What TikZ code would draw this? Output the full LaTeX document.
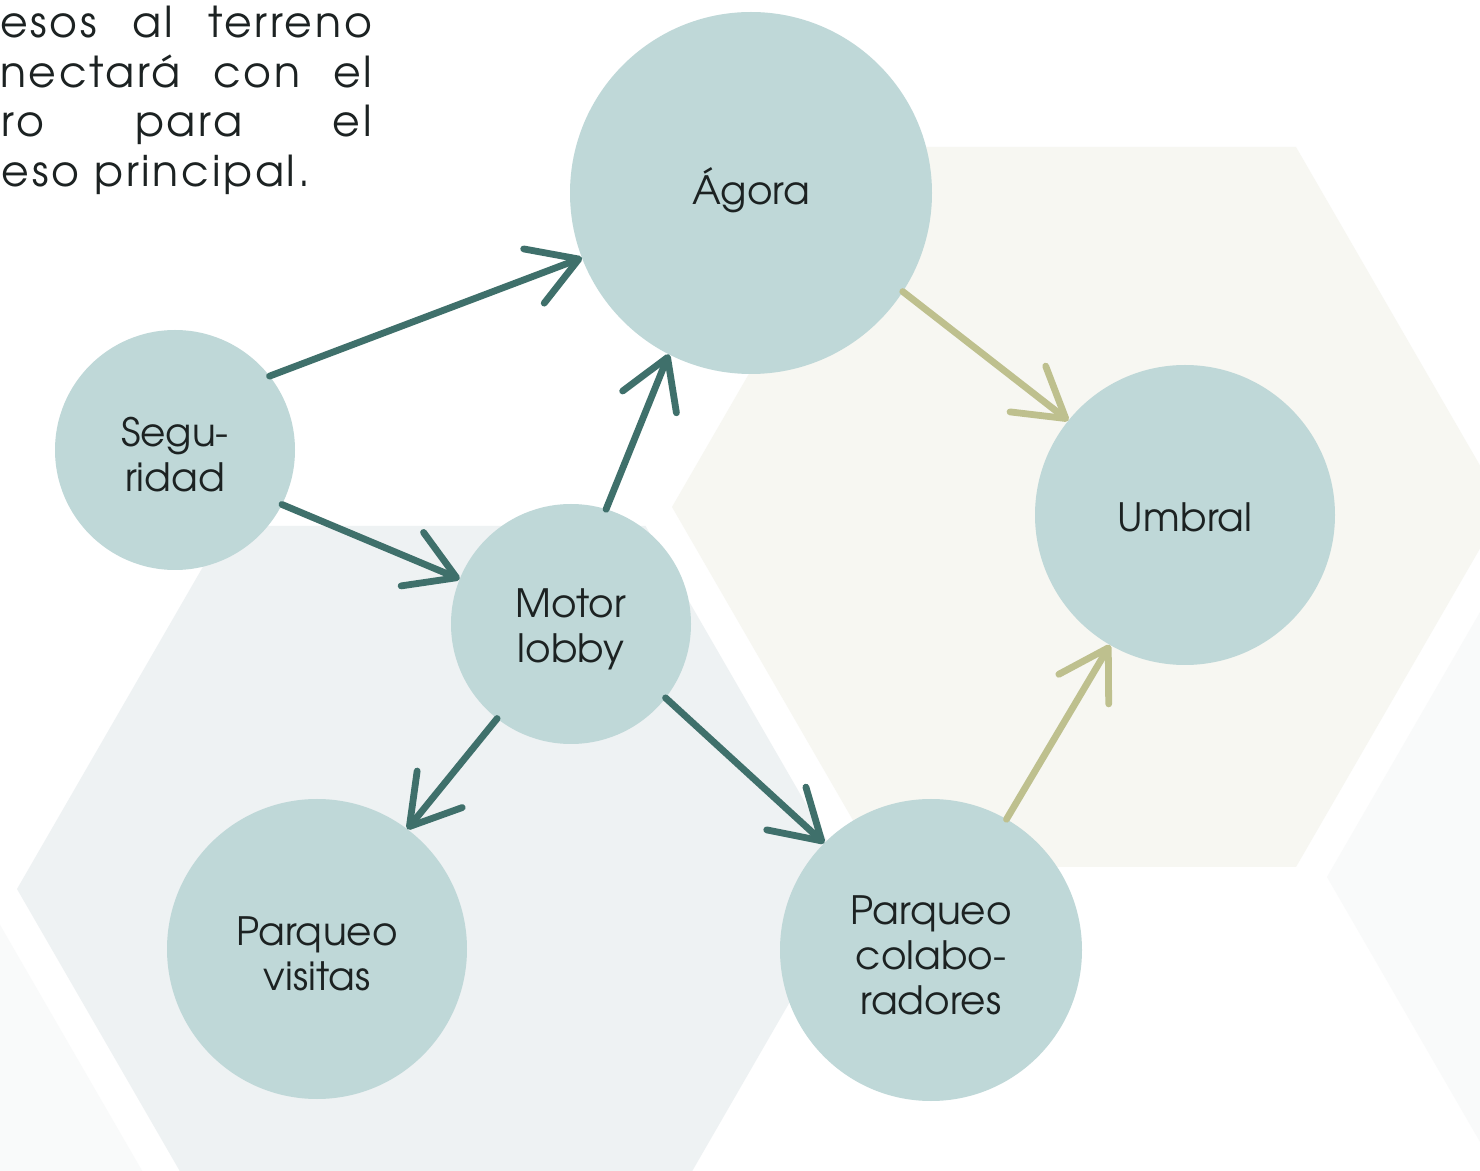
\documentclass[tikz,border=0pt]{standalone}
\usepackage{fontspec}
\setmainfont{TeX Gyre Adventor}
\newfontfamily\spacedfont[LetterSpace=6.5]{TeX Gyre Adventor}
\usetikzlibrary{arrows.meta}
\definecolor{circfill}{HTML}{BFD8D8}
\definecolor{arrteal}{HTML}{3F706B}
\definecolor{arrolive}{HTML}{BEC08E}
\definecolor{hexgray}{HTML}{EEF2F3}
\definecolor{hexbeige}{HTML}{F7F7F2}
\definecolor{hexfaint}{HTML}{F9FAFA}
\definecolor{txtcol}{HTML}{1C2222}
\begin{document}
\begin{tikzpicture}[x=0.5pt,y=-0.5pt,
  bubble/.style={circle, fill=circfill, draw=none, inner sep=0pt, outer sep=0pt},
  btext/.style={align=center, text=txtcol, inner sep=0pt, yshift=-2.5pt,
    font=\fontsize{19.5}{22.5}\selectfont},
  link/.style={line width=3.4pt, draw=arrteal, line cap=round,
    -{Straight Barb[length=24pt,width=29pt,round]}},
  olink/.style={link, draw=arrolive},
  topline/.style={anchor=base west, inner sep=0pt, outer sep=0pt, text=txtcol,
    font=\spacedfont\fontsize{21.3}{25}\selectfont}]
\useasboundingbox (0,0) rectangle (1480,1171);
\clip (0,0) rectangle (1480,1171);
\fill[white] (0,0) rectangle (1480,1171);
% background hexagons
\fill[hexfaint] (1327,877) -- (1535,517) -- (1951,517) -- (2159,877) -- (1951,1237) -- (1535,1237) -- cycle;
\fill[hexfaint] (200,1271) -- (-8,911) -- (-424,911) -- (-632,1271) -- (-424,1631) -- (-8,1631) -- cycle;
\fill[hexgray] (855,889) -- (645.5,526) -- (226.5,526) -- (17,889) -- (226.5,1252) -- (645.5,1252) -- cycle;
\fill[hexbeige] (1504,507) -- (1296,147) -- (880,147) -- (672,507) -- (880,867) -- (1296,867) -- cycle;
% top-left text
\node[topline] (l1) at (0,38) {\makebox[186pt][s]{esos al terreno}};
\node[topline] (l2) at (0,88) {\makebox[186pt][s]{nectará con el}};
\node[topline] (l3) at (2,137) {\makebox[185pt][s]{ro para el}};
\node[topline] (l4) at (2,187) {eso principal.};
% circles
\node[bubble, minimum size=120pt, label={[btext]center:Segu-\\ridad}] (seg) at (175,450) {};
\node[bubble, minimum size=181pt, label={[btext, yshift=4pt]center:Ágora}] (ago) at (751,193) {};
\node[bubble, minimum size=120pt, label={[btext]center:Motor\\lobby}] (mot) at (571,624) {};
\node[bubble, minimum size=150pt, label={[btext, yshift=1.5pt]center:Umbral}] (umb) at (1185,515) {};
\node[bubble, minimum size=150pt, label={[btext]center:Parqueo\\visitas}] (pv) at (317,949) {};
\node[bubble, minimum size=151pt, label={[btext]center:Parqueo\\colabo-\\radores}] (pc) at (931,950) {};
% connectors
\draw[link] (seg.38) -- (ago.201);
\draw[link] (seg.-27) -- (mot.158);
\draw[link] (mot.73) -- (ago.243);
\draw[link] (mot.232) -- (pv.53);
\draw[link] (mot.-38) -- (pc.135);
\draw[olink] (ago.-33) -- (umb.141);
\draw[olink] (pc.60) -- (umb.240);
\end{tikzpicture}
\end{document}
